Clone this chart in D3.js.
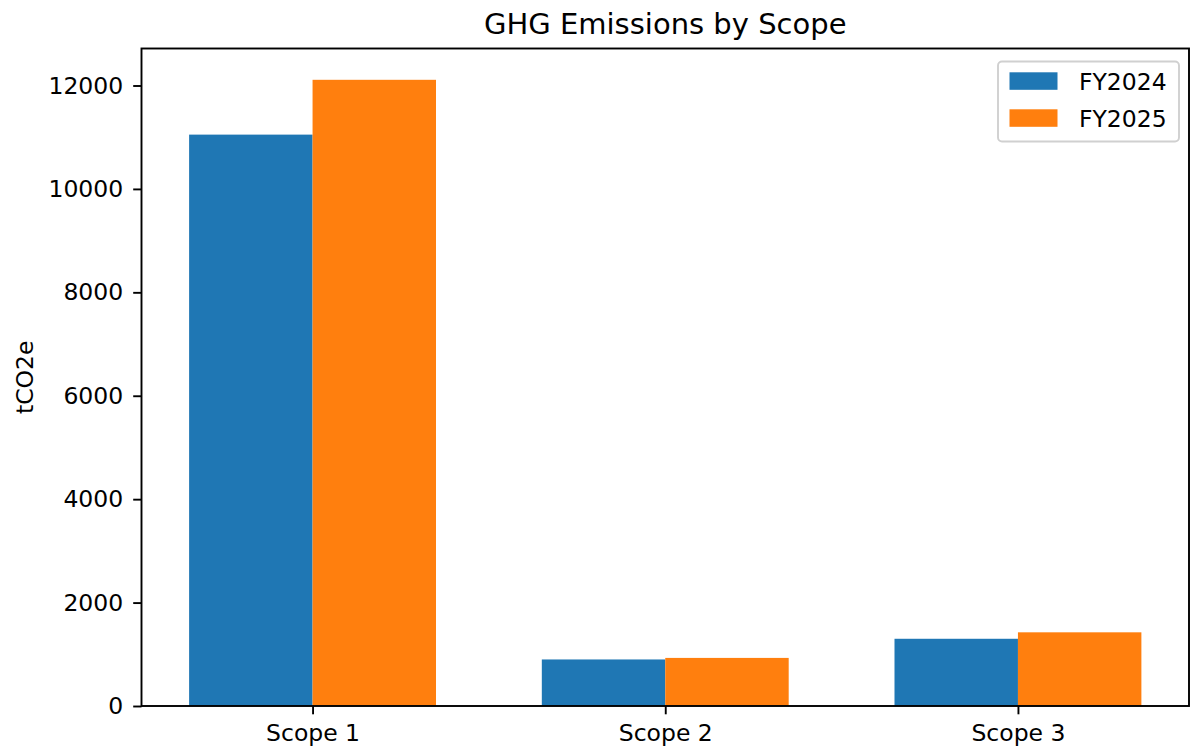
<!DOCTYPE html>
<html>
<head>
<meta charset="utf-8">
<script src="https://cdn.jsdelivr.net/npm/d3@7"></script>
<style>
  body { margin: 0; background: #fff; }
  text { font-family: "DejaVu Sans", sans-serif; fill: #000; }
</style>
</head>
<body>
<div id="chart"></div>
<script>
// data
const scopes = ["Scope 1", "Scope 2", "Scope 3"];
const fy2024 = [11050, 900, 1300];
const fy2025 = [12110, 930, 1425];
const seriesNames = ["FY2024", "FY2025"];
const seriesColors = ["#1f77b4", "#ff7f0e"];
const yTicks = [0, 2000, 4000, 6000, 8000, 10000, 12000];

const W = 1190, H = 749;
const plotLeft = 141.5, plotRight = 1189, plotTop = 48.5, plotBottom = 706;
const barW = 0.35;

const svg = d3.select("#chart").append("svg")
  .attr("width", W).attr("height", H);

const xScale = d3.scaleLinear().domain([-0.485, 2.485]).range([plotLeft, plotRight]);
const maxVal = d3.max(fy2024.concat(fy2025));
const yScale = d3.scaleLinear().domain([0, maxVal * 1.05]).range([plotBottom, plotTop]);

const series = [fy2024, fy2025];

// bars
series.forEach((vals, si) => {
  svg.append("g")
    .selectAll("rect")
    .data(vals)
    .enter()
    .append("rect")
    .attr("x", (d, i) => xScale(i + (si === 0 ? -barW : 0)))
    .attr("width", xScale(barW) - xScale(0))
    .attr("y", d => yScale(d))
    .attr("height", d => yScale(0) - yScale(d))
    .attr("fill", seriesColors[si]);
});

// x axis
const xAxis = d3.axisBottom(xScale)
  .tickValues([0, 1, 2])
  .tickFormat(i => scopes[i])
  .tickSize(8.3)
  .tickPadding(10);
const gx = svg.append("g")
  .attr("transform", `translate(0, ${plotBottom})`)
  .call(xAxis);
gx.select(".domain").remove();
gx.selectAll("line").attr("stroke", "#000").attr("stroke-width", 1.9);
gx.selectAll("text").style("font-size", "23.5px");

// y axis
const yAxis = d3.axisLeft(yScale)
  .tickValues(yTicks)
  .tickFormat(d3.format("d"))
  .tickSize(8.3)
  .tickPadding(10);
const gy = svg.append("g")
  .attr("transform", `translate(${plotLeft}, 0)`)
  .call(yAxis);
gy.select(".domain").remove();
gy.selectAll("line").attr("stroke", "#000").attr("stroke-width", 1.9);
gy.selectAll("text").style("font-size", "23.5px");

// spines
svg.append("rect")
  .attr("x", plotLeft).attr("y", plotTop)
  .attr("width", plotRight - plotLeft).attr("height", plotBottom - plotTop)
  .attr("fill", "none").attr("stroke", "#000").attr("stroke-width", 1.9);

// title
svg.append("text")
  .attr("x", (plotLeft + plotRight) / 2).attr("y", 34)
  .attr("text-anchor", "middle")
  .style("font-size", "29px")
  .text("GHG Emissions by Scope");

// y label
svg.append("text")
  .attr("transform", `translate(33, ${(plotTop + plotBottom) / 2}) rotate(-90)`)
  .attr("text-anchor", "middle")
  .style("font-size", "23.5px")
  .text("tCO2e");

// legend
const legend = svg.append("g");
legend.append("rect")
  .attr("x", 998).attr("y", 61.5)
  .attr("width", 181).attr("height", 80)
  .attr("rx", 4)
  .attr("fill", "#fff").attr("fill-opacity", 0.8)
  .attr("stroke", "#d0d0d0").attr("stroke-width", 1.9);
seriesNames.forEach((name, i) => {
  const y0 = 72.3 + i * 37;
  legend.append("rect")
    .attr("x", 1009.5).attr("y", y0)
    .attr("width", 48).attr("height", 17.5)
    .attr("fill", seriesColors[i]);
  legend.append("text")
    .attr("x", 1079).attr("y", y0 + 17.5)
    .style("font-size", "23.5px")
    .text(name);
});
</script>
</body>
</html>
